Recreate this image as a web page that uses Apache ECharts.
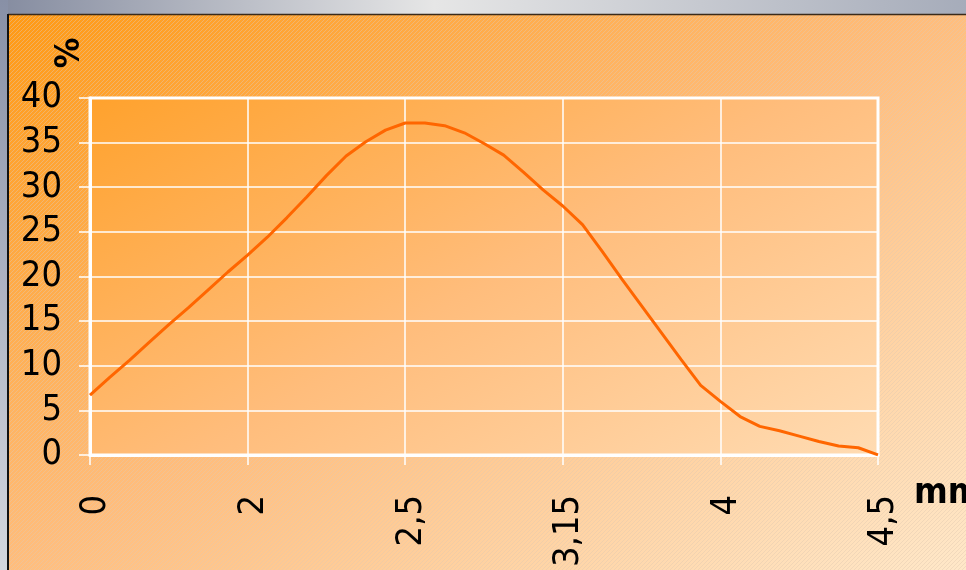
<!DOCTYPE html>
<html>
<head>
<meta charset="utf-8">
<script src="https://cdn.jsdelivr.net/npm/echarts@6/dist/echarts.min.js"></script>
<style>
html,body{margin:0;padding:0;background:#fff;}
#chart{width:966px;height:570px;}
</style>
</head>
<body>
<div id="chart"></div>
<script>
// ---- data ----
const xTickLabels = ['0', '2', '2,5', '3,15', '4', '4,5'];
const xPointIndex = [0,1,2,3,4,5,6,7,8,9,10,11,12,13,14,15,16,17,18,19,20,21,22,23,24,25,26,27,28,29,30,31,32,33,34,35,36,37,38,39,40];
const percentValues = [6.7, 8.7, 10.6, 12.6, 14.6, 16.5, 18.5, 20.5, 22.4, 24.4,
  26.6, 28.9, 31.3, 33.5, 35.1, 36.4, 37.2, 37.2, 36.9, 36.1,
  34.9, 33.6, 31.7, 29.7, 27.9, 25.8, 22.8, 19.7, 16.7, 13.7,
  10.7, 7.8, 6.0, 4.3, 3.2, 2.7, 2.1, 1.5, 1.0, 0.8, 0];
const yMin = 0, yMax = 40, yStep = 5;
const yAxisName = '%';
const xAxisName = 'mm';

// ---- chart ----
const W = 966, H = 570;
const G = {left: 90, top: 98, right: 88, bottom: 113};
const FONT = '"DejaVu Sans Condensed", "DejaVu Sans", sans-serif';

function hatch() {
  const c = document.createElement('canvas');
  c.width = 4; c.height = 4;
  const ctx = c.getContext('2d');
  ctx.fillStyle = 'rgba(225,200,175,0.45)';
  for (let i = 0; i < 4; i++) ctx.fillRect(i, 3 - i, 1, 1);
  return c;
}
const hatchPattern = {image: hatch(), repeat: 'repeat'};

const bgGrad = {
  type: 'linear', global: true,
  x: 233, y: -138, x2: 733, y2: 708,
  colorStops: [
    {offset: 0, color: '#ff9810'},
    {offset: 0.5, color: '#ffbd7c'},
    {offset: 1, color: '#ffe8c9'}
  ]
};
const topGrad = {
  type: 'linear', x: 0, y: 0, x2: 1, y2: 0,
  colorStops: [
    {offset: 0, color: '#858ca0'},
    {offset: 0.45, color: '#e6e6e6'},
    {offset: 1, color: '#a6acba'}
  ]
};
const leftGrad = {
  type: 'linear', x: 0, y: 0, x2: 0, y2: 1,
  colorStops: [
    {offset: 0, color: '#8890a6'},
    {offset: 1, color: '#d4d7de'}
  ]
};

const pl = G.left, pt = G.top, pr = W - G.right, pb = H - G.bottom;
const chart = echarts.init(document.getElementById('chart'), null, {renderer: 'canvas'});
chart.setOption({
  animation: false,
  backgroundColor: '#ffffff',
  graphic: {elements: [
    {type: 'rect', z: -20, silent: true, shape: {x: 0, y: 0, width: W, height: H}, style: {fill: bgGrad}},
    // hatching outside the plot area
    {type: 'rect', z: -19, silent: true, shape: {x: 0, y: 0, width: W, height: pt}, style: {fill: hatchPattern}},
    {type: 'rect', z: -19, silent: true, shape: {x: 0, y: pb, width: W, height: H - pb}, style: {fill: hatchPattern}},
    {type: 'rect', z: -19, silent: true, shape: {x: 0, y: pt, width: pl, height: pb - pt}, style: {fill: hatchPattern}},
    {type: 'rect', z: -19, silent: true, shape: {x: pr, y: pt, width: W - pr, height: pb - pt}, style: {fill: hatchPattern}},
    // frame
    {type: 'rect', z: -18, silent: true, shape: {x: 0, y: 0, width: W, height: 14}, style: {fill: topGrad}},
    {type: 'rect', z: -18, silent: true, shape: {x: 0, y: 0, width: 8, height: H}, style: {fill: leftGrad}},
    {type: 'line', z: -17, silent: true, shape: {x1: 8, y1: 14.5, x2: W, y2: 14.5}, style: {stroke: '#3a2a1a', lineWidth: 1.5}},
    {type: 'line', z: -17, silent: true, shape: {x1: 8, y1: 14, x2: 8, y2: H}, style: {stroke: '#111', lineWidth: 2}},
    // axis names
    {type: 'text', z: 5, silent: true, x: 70, y: 53, rotation: Math.PI / 2,
      style: {text: yAxisName, font: 'bold 34px ' + FONT, fill: '#000', align: 'center', verticalAlign: 'middle'}},
    {type: 'text', z: 5, silent: true, x: 914, y: 494,
      style: {text: xAxisName, font: 'bold 36px ' + FONT, fill: '#000', align: 'left', verticalAlign: 'middle'}}
  ]},
  grid: {left: G.left, top: G.top, right: G.right, bottom: G.bottom, show: true,
    borderColor: '#ffffff', borderWidth: 3, backgroundColor: 'transparent'},
  xAxis: {
    type: 'value', min: 0, max: 40, interval: 8,
    axisLine: {show: true, lineStyle: {color: '#ffffff', width: 3}},
    axisTick: {show: true, length: 10, lineStyle: {color: '#ffffff', width: 1.5}},
    splitLine: {show: true, lineStyle: {color: '#ffffff', width: 1.5}},
    axisLabel: {
      rotate: 90, margin: 40, color: '#000', fontSize: 36, fontFamily: FONT,
      verticalAlign: 'top', lineHeight: 12,
      formatter: v => xTickLabels[Math.round(v / 8)] || ''
    }
  },
  yAxis: {
    type: 'value', min: yMin, max: yMax, interval: yStep,
    axisLine: {show: true, lineStyle: {color: '#ffffff', width: 3}},
    axisTick: {show: true, length: 11, lineStyle: {color: '#ffffff', width: 1.5}},
    splitLine: {show: true, lineStyle: {color: '#ffffff', width: 1.5}},
    axisLabel: {margin: 28, color: '#000', fontSize: 36, fontFamily: FONT}
  },
  series: [{
    type: 'line',
    data: xPointIndex.map((x, i) => [x, percentValues[i]]),
    showSymbol: false,
    lineStyle: {color: '#ff6600', width: 3},
    z: 3
  }]
});
</script>
</body>
</html>
